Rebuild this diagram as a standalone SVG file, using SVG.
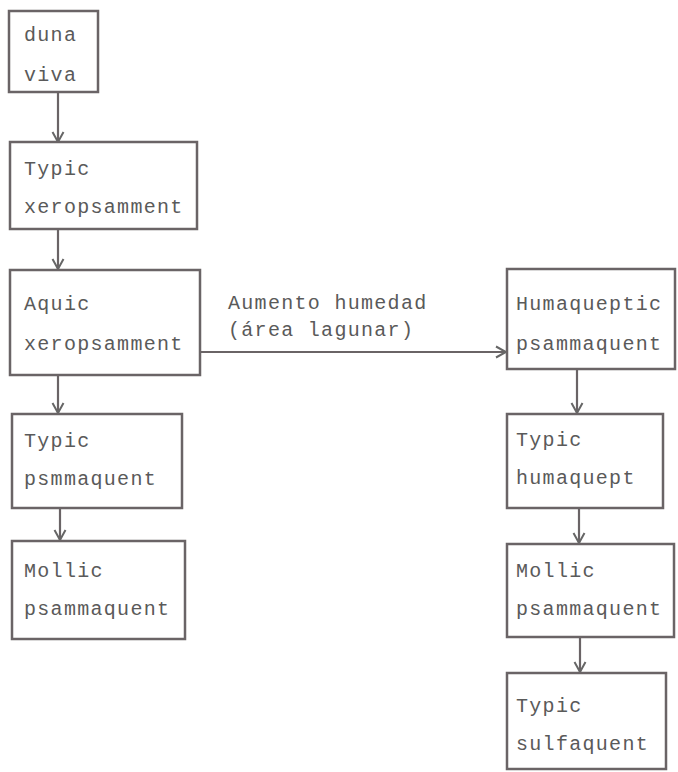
<svg xmlns="http://www.w3.org/2000/svg" width="678" height="772" viewBox="0 0 678 772">
<defs>
<marker id="arr" markerWidth="14" markerHeight="14" refX="12" refY="7" orient="auto" markerUnits="userSpaceOnUse">
<polyline points="2,1.5 12,7 2,12.5" fill="none" stroke="#666" stroke-width="2"/>
</marker>
<style>
.box{fill:#fff;stroke:#6a6466;stroke-width:2.5}
.t{font-family:"Liberation Mono","DejaVu Sans Mono",monospace;font-size:20px;letter-spacing:1.3px;fill:#5a5a5a}
.c{fill:none;stroke:#6a6466;stroke-width:2.2;marker-end:url(#arr)}
</style>
</defs>
<rect width="678" height="772" fill="#fff"/>
<g id="connectors">
<line class="c" x1="58" y1="92" x2="58" y2="142"/>
<line class="c" x1="58" y1="229" x2="58" y2="269"/>
<line class="c" x1="58" y1="375" x2="58" y2="413"/>
<line class="c" x1="60" y1="508" x2="60" y2="540"/>
<line class="c" x1="200" y1="352" x2="506" y2="352"/>
<line class="c" x1="577" y1="369" x2="577" y2="413"/>
<line class="c" x1="579" y1="508" x2="579" y2="543"/>
<line class="c" x1="580" y1="637" x2="580" y2="672"/>
</g>
<g id="label">
<text class="t" x="228" y="309">Aumento humedad</text>
<text class="t" x="228" y="336">(área lagunar)</text>
</g>
<g id="n1"><rect class="box" x="9" y="11" width="89" height="81"/>
<text class="t" x="24" y="41">duna</text><text class="t" x="24" y="81">viva</text></g>
<g id="n2"><rect class="box" x="10" y="142" width="187" height="87"/>
<text class="t" x="24" y="175">Typic</text><text class="t" x="24" y="213">xeropsamment</text></g>
<g id="n3"><rect class="box" x="10" y="270" width="190" height="105"/>
<text class="t" x="24" y="310">Aquic</text><text class="t" x="24" y="350">xeropsamment</text></g>
<g id="n4"><rect class="box" x="12" y="414" width="170" height="94"/>
<text class="t" x="24" y="447">Typic</text><text class="t" x="24" y="485">psmmaquent</text></g>
<g id="n5"><rect class="box" x="12" y="541" width="173" height="98"/>
<text class="t" x="24" y="577">Mollic</text><text class="t" x="24" y="615">psammaquent</text></g>
<g id="n6"><rect class="box" x="507" y="269" width="168" height="100"/>
<text class="t" x="516" y="310">Humaqueptic</text><text class="t" x="516" y="350">psammaquent</text></g>
<g id="n7"><rect class="box" x="507" y="414" width="156" height="94"/>
<text class="t" x="516" y="446">Typic</text><text class="t" x="516" y="484">humaquept</text></g>
<g id="n8"><rect class="box" x="507" y="544" width="167" height="93"/>
<text class="t" x="516" y="577">Mollic</text><text class="t" x="516" y="615">psammaquent</text></g>
<g id="n9"><rect class="box" x="507" y="673" width="159" height="96"/>
<text class="t" x="516" y="712">Typic</text><text class="t" x="516" y="750">sulfaquent</text></g>
</svg>
